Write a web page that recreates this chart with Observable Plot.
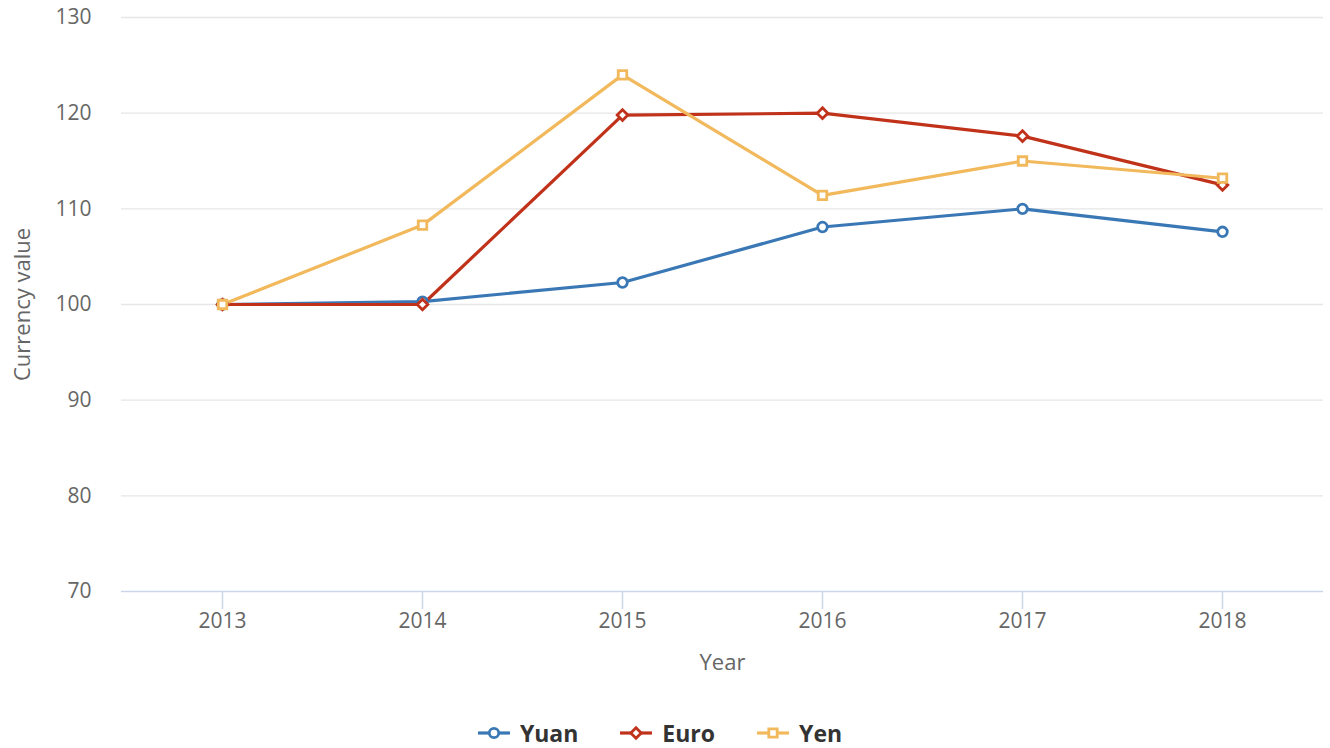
<!DOCTYPE html>
<html>
<head>
<meta charset="utf-8">
<script src="https://cdn.jsdelivr.net/npm/d3@7"></script>
<script src="https://cdn.jsdelivr.net/npm/@observablehq/plot@0.6"></script>
<style>
  html, body { margin: 0; padding: 0; background: #fff; font-family: "Open Sans", sans-serif; }
  #chart svg { display: block; }
  #legend { height: 56px; display: flex; justify-content: center; align-items: center; gap: 42px; margin-left: -10px; }
  .item { display: flex; align-items: center; gap: 10px; font-weight: bold; font-size: 23px; color: #333; }
</style>
</head>
<body>
<div id="chart"></div>
<div id="legend"></div>
<script>
const years = ["2013", "2014", "2015", "2016", "2017", "2018"];
const yuan = [100, 100.3, 102.3, 108.1, 110, 107.6];
const euro = [100, 100, 119.8, 120, 117.6, 112.5];
const yen = [100, 108.3, 124, 111.4, 115, 113.2];
const seriesNames = ["Yuan", "Euro", "Yen"];
const seriesColors = ["#3a78b5", "#c0321a", "#f2b95c"];
const yTicks = [70, 80, 90, 100, 110, 120, 130];

const valuesBySeries = [yuan, euro, yen];
const rows = [];
seriesNames.forEach((s, i) => {
  years.forEach((yr, j) => rows.push({series: s, year: yr, value: valuesBySeries[i][j]}));
});

const W = 1330, H = 705;
const chart = Plot.plot({
  width: W,
  height: H,
  marginTop: 17,
  marginBottom: 114,
  marginLeft: 121,
  marginRight: 7,
  style: {fontFamily: "Open Sans", background: "#fff"},
  x: {type: "point", domain: years, padding: 0.5},
  y: {domain: [70, 130]},
  color: {domain: seriesNames, range: seriesColors},
  symbol: {domain: seriesNames, range: ["circle", "diamond2", "square"]},
  marks: [
    Plot.gridY(yTicks.filter(d => d > 70), {stroke: "#e6e6e6", strokeOpacity: 1, strokeWidth: 1.4}),
    Plot.ruleY([70], {stroke: "#ccd6eb", strokeWidth: 1.5}),
    Plot.axisY(yTicks, {tickSize: 0, tickPadding: 30, fontSize: 21, fill: "#666", label: null}),
    Plot.axisX(years, {tickSize: 18, tickPadding: 4, fontSize: 21, fill: "#666", stroke: "#ccd6eb", strokeWidth: 1.5, label: null}),
    Plot.text(["Currency value"], {frameAnchor: "left", dx: -99, rotate: -90, textAnchor: "middle", lineAnchor: "middle", fontSize: 22, fill: "#666"}),
    Plot.text(["Year"], {frameAnchor: "bottom", dy: 71, textAnchor: "middle", lineAnchor: "middle", fontSize: 22, fill: "#666"}),
    Plot.lineY(rows, {x: "year", y: "value", z: "series", stroke: "series", strokeWidth: 3.2, curve: "linear"}),
    Plot.dot(rows, {x: "year", y: "value", stroke: "series", symbol: "series", fill: "white", strokeWidth: 2.8, r: 4.8})
  ]
});
document.getElementById("chart").appendChild(chart);

const legend = document.getElementById("legend");
seriesNames.forEach((s, i) => {
  const item = document.createElement("div");
  item.className = "item";
  const svg = d3.create("svg").attr("width", 32).attr("height", 16);
  svg.append("line").attr("x1", 0).attr("x2", 32).attr("y1", 8).attr("y2", 8).attr("stroke", seriesColors[i]).attr("stroke-width", 3.2);
  const sym = d3.symbol().type([d3.symbolCircle, d3.symbolDiamond2, d3.symbolSquare][i]).size(70);
  svg.append("path").attr("d", sym()).attr("transform", "translate(16,8)").attr("fill", "white").attr("stroke", seriesColors[i]).attr("stroke-width", 2.8);
  item.appendChild(svg.node());
  const t = document.createElement("span");
  t.textContent = s;
  item.appendChild(t);
  legend.appendChild(item);
});
</script>
</body>
</html>
